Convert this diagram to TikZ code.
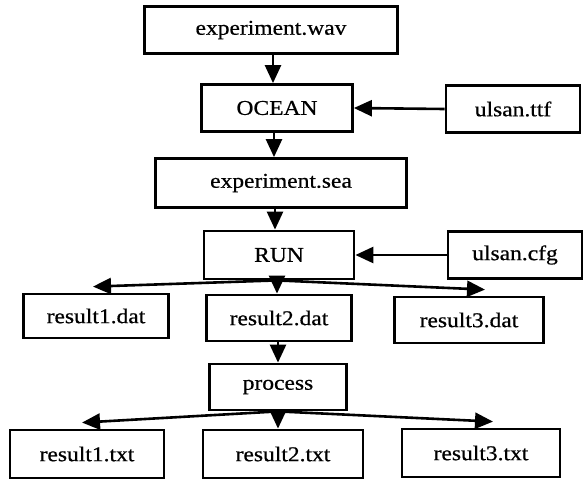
\documentclass[tikz,border=0pt]{standalone}
\usepackage{fontspec}
\setmainfont[FakeStretch=1.12,FakeBold=0.6]{Liberation Serif}
\usetikzlibrary{arrows.meta,calc}
\tikzset{
  box/.style={draw, line width=2.8pt, minimum height=47pt, inner sep=0pt, font=\fontsize{21}{24}\selectfont},
  arr/.style={line width=2.6pt, -{Triangle[length=18pt,width=16pt]}},
}
\begin{document}
\begin{tikzpicture}[x=1pt,y=-1pt]
\useasboundingbox (0,0) rectangle (586,485);
\node[box, minimum width=253pt] (wav) at (271,30) {experiment.wav};
\node[box, minimum width=151pt] (ocean) at (277,108) {OCEAN};
\node[box, minimum width=134pt] (ttf) at (513,109) {ulsan.ttf};
\node[box, minimum width=251pt, minimum height=49pt] (sea) at (281,183) {experiment.sea};
\node[box, minimum width=150pt, minimum height=48pt] (run) at (279,255) {RUN};
\node[box, minimum width=134pt] (cfg) at (515,255) {ulsan.cfg};
\node[box, minimum width=145pt, minimum height=44pt] (r1d) at (96,316) {result1.dat};
\node[box, minimum width=145pt, minimum height=46pt] (r2d) at (279,318) {result2.dat};
\node[box, minimum width=149pt, minimum height=46pt] (r3d) at (469,320) {result3.dat};
\node[box, minimum width=137pt, minimum height=46pt] (proc) at (278,387) {process};
\node[box, minimum width=154pt, minimum height=48pt] (r1t) at (87,454) {result1.txt};
\node[box, minimum width=160pt, minimum height=48pt] (r2t) at (283,454) {result2.txt};
\node[box, minimum width=158pt, minimum height=48pt] (r3t) at (481,453) {result3.txt};

\coordinate (wavout) at ($(wav.south)+(2,0)$);
\draw[arr] (wavout) -- (wavout |- ocean.north);
\draw[arr] (ttf.west) -- (ocean.east);
\coordinate (ocout) at ($(ocean.south)+(-3,0)$);
\draw[arr] (ocout) -- (ocout |- sea.north);
\coordinate (seaout) at ($(sea.south)+(-6,0)$);
\draw[arr] (seaout) -- (seaout |- run.north);
\draw[arr] (cfg.west) -- (run.east);
\coordinate (runout) at ($(run.south)+(-2,0)$);
\coordinate (r1din) at ($(r1d.north)+(-3,-6)$);
\coordinate (r3din) at ($(r3d.north)+(16,-6)$);
\draw[arr] (runout) -- (r1din);
\draw[arr] (runout) -- (runout |- r2d.north);
\draw[arr] (runout) -- (r3din);
\coordinate (r2dout) at ($(r2d.south)+(-1,0)$);
\draw[arr] (r2dout) -- (r2dout |- proc.north);
\coordinate (procout) at ($(proc.south)+(0,0)$);
\coordinate (r1tin) at ($(r1t.north)+(-5,-6)$);
\coordinate (r3tin) at ($(r3t.north)+(12,-6)$);
\draw[arr] (procout) -- (r1tin);
\draw[arr] (procout) -- (procout |- r2t.north);
\draw[arr] (procout) -- (r3tin);
\end{tikzpicture}
\end{document}
